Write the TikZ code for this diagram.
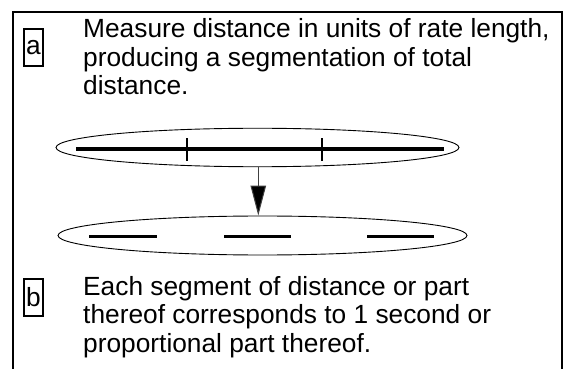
\documentclass[tikz,border=0pt]{standalone}
\usepackage{fontspec}
\setmainfont{Liberation Sans}
\usetikzlibrary{arrows.meta,shapes.geometric}
\begin{document}
\begin{tikzpicture}[x=1pt,y=-1pt,
  txt/.style={font=\fontsize{26.3}{28.5}\selectfont,align=left,anchor=base west,inner sep=0pt},
  labelbox/.style={draw,line width=1.3pt,font=\fontsize{26.3}{28}\selectfont,minimum width=19pt,minimum height=37pt,inner sep=0pt},
  oval/.style={draw,ellipse,line width=0.9pt,inner sep=0pt},
  seg/.style={line width=3.6pt},
  tick/.style={line width=2.2pt},
  flow/.style={line width=1pt,draw=black!75,-{Triangle[length=30pt,width=15.5pt,fill=black]}}]
\useasboundingbox (0,0) rectangle (574,369);
% outer frame (open at bottom)
\draw[line width=2pt] (12.5,369) -- (12.5,12) -- (562,12) -- (562,369);
% label a and text (anchored at the baseline of the last line)
\node[labelbox] (la) at (33.5,47.5) {a};
\node[txt] (ta) at (83,95) {Measure distance in units of rate length,\\producing a segmentation of total\\distance.};
% top oval with segmented line
\node[oval,minimum width=403pt,minimum height=38.5pt] (o1) at (257.5,147.5) {};
\coordinate (l1) at (76,149);
\coordinate (l2) at (444,149);
\draw[seg] (l1) -- (l2);
\coordinate (t1) at (187,149);
\coordinate (t2) at (322,149);
\draw[tick] ([yshift=-12pt]t1) -- ([yshift=11pt]t1);
\draw[tick] ([yshift=-12pt]t2) -- ([yshift=11pt]t2);
% bottom oval with separated segments
\node[oval,minimum width=409pt,minimum height=39pt] (o2) at (262.5,235.5) {};
\coordinate (s1a) at (89,236.5);
\coordinate (s1b) at (157,236.5);
\coordinate (s2a) at (224,236.5);
\coordinate (s2b) at (291,236.5);
\coordinate (s3a) at (367,236.5);
\coordinate (s3b) at (434,236.5);
\draw[seg] (s1a) -- (s1b);
\draw[seg] (s2a) -- (s2b);
\draw[seg] (s3a) -- (s3b);
% arrow
\draw[flow] (o1.south -| 258.3,0) -- (o2.north -| 258.3,0);
% label b and text
\node[labelbox] (lb) at (33.5,297.5) {b};
\node[txt] (tb) at (83,352) {Each segment of distance or part\\thereof corresponds to 1 second or\\proportional part thereof.};
\end{tikzpicture}
\end{document}
